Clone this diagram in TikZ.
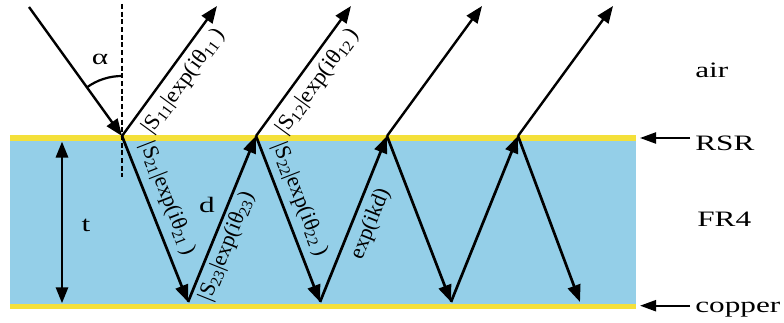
\documentclass[tikz,border=0pt]{standalone}
\usepackage{fontspec}
\setmainfont{Liberation Serif}
\usetikzlibrary{calc,arrows.meta}
\definecolor{fr4blue}{HTML}{94CFE8}
\definecolor{metal}{HTML}{F4E03A}

\begin{document}
\begin{tikzpicture}[x=1pt,y=1pt,
  ray/.style={line width=2.4pt,-{Triangle[length=17pt,width=13pt]}},
  zig/.style={line width=2.7pt,-{Triangle[length=17pt,width=13pt]}},
  dim/.style={line width=2.9pt,{Triangle[length=16pt,width=12pt]}-{Triangle[length=16pt,width=12pt]}},
  side/.style={line width=2.2pt,-{Triangle[length=16pt,width=11pt]}},
  normal/.style={line width=2.2pt,dash pattern=on 5pt off 2.7pt},
  txt/.style={font=\fontsize{22}{26}\selectfont,inner sep=0pt,xscale=1.42},
  rlab/.style 2 args={font=\fontsize{22}{26}\selectfont,inner sep=0pt,rotate=#1,xscale=#2}]
\useasboundingbox (0,0) rectangle (784,322);
% layers
\fill[fr4blue] (10,18) rectangle (636,181.5);
\fill[metal] (10,181.5) rectangle (636,187);
\fill[metal] (10,13) rectangle (636,18);
% reflection points
\foreach \n/\x in {v0/122,v1/256,v2/387,v3/518}{\coordinate (\n) at (\x,186);}
\foreach \n/\x in {b1/188,b2/320,b3/451,b4/580}{\coordinate (\n) at (\x,20);}
\foreach \n/\x in {o1/217,o2/351,o3/482,o4/613}{\coordinate (\n) at (\x,316);}
\coordinate (src) at (29,315);
\coordinate (ntop) at (122,318);
\coordinate (nbot) at (122,145);
\coordinate (ttop) at (62,180.5);
\coordinate (tbot) at (62,18.7);
% rays
\draw[normal] (ntop)--(nbot);
\draw[ray] (src)--(v0);
\foreach \a/\b in {v0/o1,v1/o2,v2/o3,v3/o4}{\draw[ray] (\a)--(\b);}
\foreach \a/\b in {v0/b1,b1/v1,v1/b2,b2/v2,v2/b3,b3/v3,v3/b4}{\draw[zig] (\a)--(\b);}
\draw[line width=2.2pt] ($(v0)+(0,60)$) arc[start angle=90,end angle=125.8,radius=60];
\draw[dim] (ttop)--(tbot);
% labels
\node[txt] (alpha) at (100,263) {α};
\node[txt] (dlab) at (207,117) {d};
\node[txt] (tlab) at (86,97) {t};
\node[rlab={53.84}{1.05}] (lab11) at ($(v0)!0.5!(o1)!18pt!-90:(o1)$) {|S\textsubscript{11}|exp(iθ\textsubscript{11}\,)};
\node[rlab={53.84}{1.05}] (lab12) at ($(v1)!0.5!(o2)!18pt!-90:(o2)$) {|S\textsubscript{12}|exp(iθ\textsubscript{12}\,)};
\node[rlab={-68.7}{1}] (lab21) at ($(v0)!0.42!(b1)!19pt!90:(b1)$) {|S\textsubscript{21}|exp(iθ\textsubscript{21}\,)};
\node[rlab={68.14}{1}] (lab23) at ($(b1)!0.37!(v1)!15pt!-90:(v1)$) {|S\textsubscript{23}|exp(iθ\textsubscript{23})};
\node[rlab={-68.7}{1}] (lab22) at ($(v1)!0.42!(b2)!18pt!90:(b2)$) {|S\textsubscript{22}|exp(iθ\textsubscript{22}\,)};
\node[rlab={68.14}{1}] (labkd) at ($(b2)!0.51!(v2)!18pt!-90:(v2)$) {exp(ikd)};
\node[txt,anchor=base west] (air) at (695,244) {air};
\node[txt,anchor=base west] (rsr) at (695,172) {RSR};
\node[txt,anchor=base west] (fr4) at (697,96) {FR4};
\node[txt,anchor=base west] (copper) at (695,9.3) {copper};
\coordinate (rsrtip) at (640,184);
\coordinate (cutip) at (640,16.3);
\draw[side] ($(rsr.west|-rsrtip)+(-5,0)$)--(rsrtip);
\draw[side] ($(copper.west|-cutip)+(-5,0)$)--(cutip);
\end{tikzpicture}
\end{document}
